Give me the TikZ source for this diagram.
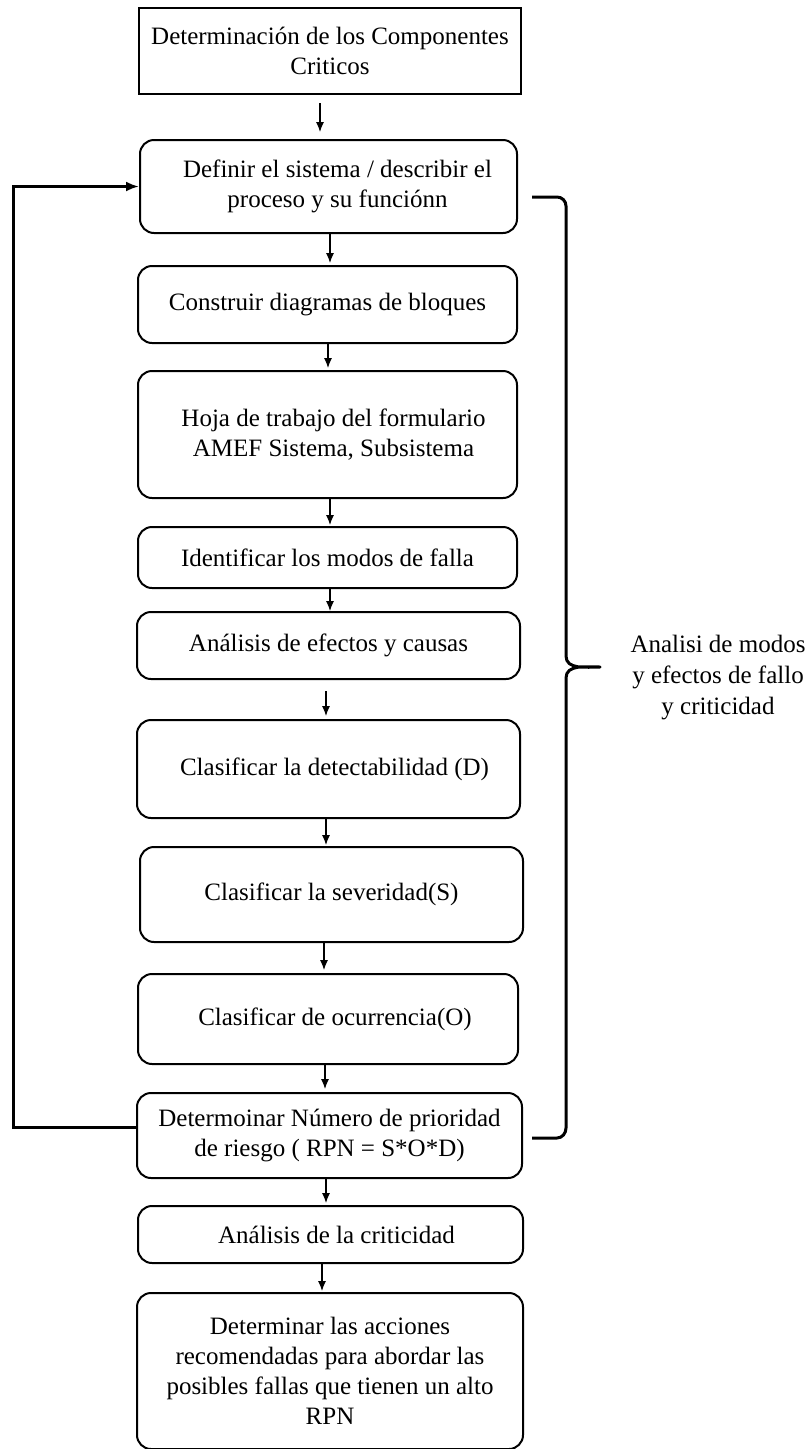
\documentclass[tikz,border=0pt]{standalone}
\usepackage{fontspec}
\setmainfont{Liberation Serif}
\newfontfamily\tnr{Liberation Serif}
\usetikzlibrary{arrows.meta}
\begin{document}
\begin{tikzpicture}[x=1pt,y=-1pt,
  every node/.style={font=\tnr\fontsize{25}{30}\selectfont},
  sqbox/.style={draw, line width=2pt, align=center, inner sep=0pt},
  rbox/.style={draw, line width=2pt, rounded corners=14pt, align=center, inner sep=0pt},
  arr/.style={-{Latex[length=10pt,width=8pt]}, line width=1.1pt},
  fb/.style={-{Latex[length=13pt,width=10pt]}, line width=3pt},
  bracestyle/.style={line width=3pt, line join=round}]
\useasboundingbox (0,0) rectangle (804,1449);

\node[sqbox, minimum width=382pt, minimum height=86pt] (n1) at (330,51) {Determinación de los Componentes\\Criticos};
\node[rbox, minimum width=377pt, minimum height=93pt] (b2) at (328.5,186.5) {\hspace*{18pt}Definir el sistema / describir el\\\hspace*{18pt}proceso y su funciónn};
\node[rbox, minimum width=379pt, minimum height=77pt] (b3) at (327.5,304.5) {Construir diagramas de bloques};
\node[rbox, minimum width=379pt, minimum height=127pt] (b4) at (327.5,434.5) {\hspace*{12pt}Hoja de trabajo del formulario\\\hspace*{12pt}AMEF Sistema, Subsistema};
\node[rbox, minimum width=379pt, minimum height=61pt] (b5) at (327.5,557.5) {Identificar los modos de falla};
\node[rbox, minimum width=383pt, minimum height=67pt] (b6) at (328.5,645.5) {Análisis de efectos y causas};
\node[rbox, minimum width=383pt, minimum height=98pt] (b7) at (328.5,769) {\hspace*{12pt}Clasificar la detectabilidad (D)};
\node[rbox, minimum width=383pt, minimum height=95pt] (b8) at (331.5,894.5) {Clasificar la severidad(S)};
\node[rbox, minimum width=380pt, minimum height=90pt] (b9) at (328,1019) {\hspace*{14pt}Clasificar de ocurrencia(O)};
\node[rbox, minimum width=385pt, minimum height=85pt] (b10) at (329.5,1135.5) {Determoinar Número de prioridad\\de riesgo ( RPN = S*O*D)};
\node[rbox, minimum width=385pt, minimum height=57pt] (b11) at (330.5,1234.5) {\hspace*{12pt}Análisis de la criticidad};
\node[rbox, minimum width=386pt, minimum height=156pt] (b12) at (330,1371) {Determinar las acciones\\recomendadas para abordar las\\posibles fallas que tienen un alto\\RPN};

\node[align=center, font=\tnr\fontsize{25}{31}\selectfont] (lbl) at (718,678) {Analisi de modos\\y efectos de fallo\\y criticidad};

\draw[arr, shorten <=8pt, shorten >=7pt] ([xshift=-10pt]n1.south) -- ([xshift=-8.5pt]b2.north);
\draw[arr, shorten >=2pt] ([xshift=1.5pt]b2.south) -- ([xshift=2.5pt]b3.north);
\draw[arr, shorten >=2pt] ([xshift=0.5pt]b3.south) -- ([xshift=0.5pt]b4.north);
\draw[arr, shorten >=1pt] ([xshift=2.5pt]b4.south) -- ([xshift=2.5pt]b5.north);
\draw[arr] ([xshift=2.5pt]b5.south) -- ([xshift=1.5pt]b6.north);
\draw[arr, shorten <=11pt, shorten >=3pt] ([xshift=-2.5pt]b6.south) -- ([xshift=-2.5pt]b7.north);
\draw[arr, shorten >=1pt] ([xshift=-2.5pt]b7.south) -- ([xshift=-5.5pt]b8.north);
\draw[arr, shorten >=3pt] ([xshift=-7.5pt]b8.south) -- ([xshift=-4pt]b9.north);
\draw[arr, shorten >=3pt] ([xshift=-3pt]b9.south) -- ([xshift=-4.5pt]b10.north);
\draw[arr, shorten >=2pt] ([xshift=-3.5pt]b10.south) -- ([xshift=-4.5pt]b11.north);
\draw[arr, shorten >=1pt] ([xshift=-8.5pt]b11.south) -- ([xshift=-8pt]b12.north);

\draw[fb] ([yshift=8.5pt]b10.west) -- ++(-123,0) |- (b2.west);

\draw[bracestyle] (532,197) -- (557,197) to[out=0,in=90] (566,206) -- (566,656)
  to[out=-90,in=180] (600,667) to[out=180,in=90] (566,678) -- (566,1128)
  to[out=-90,in=0] (557,1138) -- (532,1138);
\end{tikzpicture}
\end{document}
